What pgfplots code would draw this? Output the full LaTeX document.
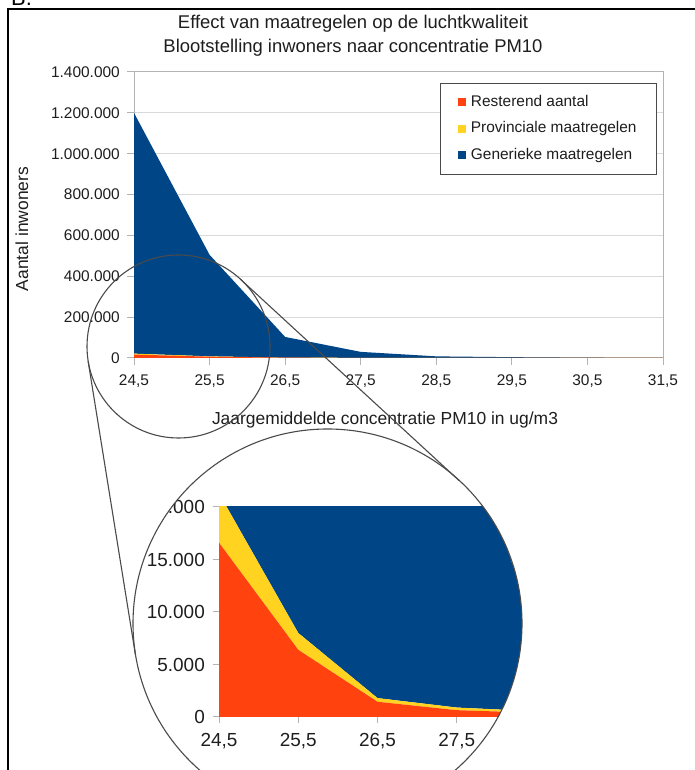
\documentclass[border=0pt]{standalone}
\usepackage{fontspec}
\setmainfont{Liberation Sans}
\usepackage{pgfplots}
\usepackage{pgfplotstable}
\pgfplotsset{compat=1.18}

\definecolor{lblue}{HTML}{004586}
\definecolor{lorange}{HTML}{FF420E}
\definecolor{lyellow}{HTML}{FFD320}
\definecolor{lgrid}{HTML}{D9D9D9}
\definecolor{laxis}{HTML}{B3B3B3}
\definecolor{ltext}{HTML}{1E1E1E}
\definecolor{lcirc}{HTML}{4A4A4A}

\newcommand\ftick{\fontsize{15.5}{18}\selectfont}
\newcommand\flab{\fontsize{17.5}{20}\selectfont}
\newcommand\ftitle{\fontsize{18.5}{24}\selectfont}
\newcommand\finset{\fontsize{19}{22}\selectfont}

% inwoners per concentratieklasse (stapel: resterend, provinciaal, generiek)
\pgfplotstableread{
x    rest   prov  gen
24.5 16600  4700  1178700
25.5 6400   1600  497000
26.5 1450   350   101200
27.5 650    250   29100
28.5 400    150   7450
29.5 200    80    3720
30.5 100    40    1360
31.5 0      0     0
}\pmdata

\begin{document}
\begin{tikzpicture}

% kader
\begin{scope}[x=1bp,y=1bp]
\draw[line width=2bp] (8,0) -- (8,761) -- (695,761);
\node[anchor=base west, inner sep=0pt, font=\fontsize{22}{22}\selectfont] at (11,764) {B.};
\end{scope}

\begin{axis}[
  at={(134bp,412bp)}, anchor=south west,
  width=529bp, height=286bp, scale only axis,
  xmin=24.5, xmax=31.5, ymin=0, ymax=1400000,
  xtick={24.5,25.5,26.5,27.5,28.5,29.5,30.5,31.5},
  ytick={0,200000,400000,600000,800000,1000000,1200000,1400000},
  scaled y ticks=false,
  stack plots=y,
  ymajorgrids, grid style={lgrid, line width=1bp},
  axis line style={laxis, line width=1bp},
  tick style={laxis, line width=1bp},
  tick align=outside, major tick length=7bp,
  xtick pos=left, ytick pos=left,
  /pgf/number format/assume math mode=true,
  ticklabel style={font=\ftick, text=ltext},
  yticklabel style={/pgf/number format/fixed, /pgf/number format/1000 sep={.}, inner xsep=7bp},
  xticklabel style={/pgf/number format/fixed, /pgf/number format/fixed zerofill,
    /pgf/number format/precision=1, /pgf/number format/use comma, inner ysep=10bp},
  title={Effect van maatregelen op de luchtkwaliteit\\Blootstelling inwoners naar concentratie PM10},
  title style={font=\ftitle, align=center, text=ltext, at={(axis description cs:0.414,1)}, anchor=center, yshift=30bp},
  xlabel={Jaargemiddelde concentratie PM10 in ug/m3},
  xlabel style={font=\flab, text=ltext, at={(axis description cs:0.4745,0)}, anchor=center, yshift=-62bp},
  ylabel={Aantal inwoners},
  ylabel style={font=\flab, text=ltext, at={(axis description cs:-0.2117,0.451)}, anchor=center},
  legend style={at={(1,1)}, anchor=north east, xshift=-6bp, yshift=-11bp,
    draw=lcirc, line width=0.8bp, font=\ftick, text=ltext,
    inner xsep=18bp, inner ysep=12bp, row sep=12.5bp,
    nodes={inner xsep=2bp, inner ysep=0pt, text height=11bp, text depth=3bp}},
  legend cell align=left,
  legend image code/.code={\fill (0bp,-4bp) rectangle (8bp,4bp); \path (11bp,0bp);},
]
\addplot[fill=lorange, draw=none] table[x=x, y=rest] {\pmdata} \closedcycle;
\addplot[fill=lyellow, draw=none] table[x=x, y=prov] {\pmdata} \closedcycle;
\addplot[fill=lblue, draw=none] table[x=x, y=gen] {\pmdata} \closedcycle;
\legend{Resterend aantal, Provinciale maatregelen, Generieke maatregelen}
\end{axis}

% vergrootglas
\begin{scope}[x=1bp,y=1bp]
\draw[lcirc, line width=1.1bp] (178.5,423.5) circle (91.5);
\draw[lcirc, line width=1.1bp] (88.1,408.9) -- (135.4,115.5);
\draw[lcirc, line width=1.1bp] (240.4,490.8) -- (459.0,289.5);
\clip (327.5,146.5) circle (194.5);
\begin{axis}[
  at={(219bp,53bp)}, anchor=south west,
  width=317bp, height=210bp, scale only axis,
  xmin=24.5, xmax=28.5, ymin=0, ymax=20000,
  xtick={24.5,25.5,26.5,27.5,28.5},
  ytick={0,5000,10000,15000,20000},
  scaled y ticks=false,
  stack plots=y,
  axis line style={laxis, line width=1bp},
  tick style={laxis, line width=1bp},
  tick align=outside, major tick length=6bp,
  xtick pos=left, ytick pos=left,
  /pgf/number format/assume math mode=true,
  ticklabel style={font=\finset, text=ltext},
  yticklabel style={/pgf/number format/fixed, /pgf/number format/1000 sep={.}, inner xsep=8bp},
  xticklabel style={/pgf/number format/fixed, /pgf/number format/fixed zerofill,
    /pgf/number format/precision=1, /pgf/number format/use comma, inner ysep=10bp},
]
\addplot[fill=lorange, draw=none] table[x=x, y=rest] {\pmdata} \closedcycle;
\addplot[fill=lyellow, draw=none] table[x=x, y=prov] {\pmdata} \closedcycle;
\addplot[fill=lblue, draw=none] table[x=x, y=gen] {\pmdata} \closedcycle;
\end{axis}
\end{scope}
\begin{scope}[x=1bp,y=1bp]
\draw[lcirc, line width=1.1bp] (327.5,146.5) circle (194.5);
\pgfresetboundingbox
\useasboundingbox (0,0) rectangle (695,770);
\end{scope}
\end{tikzpicture}
\end{document}
